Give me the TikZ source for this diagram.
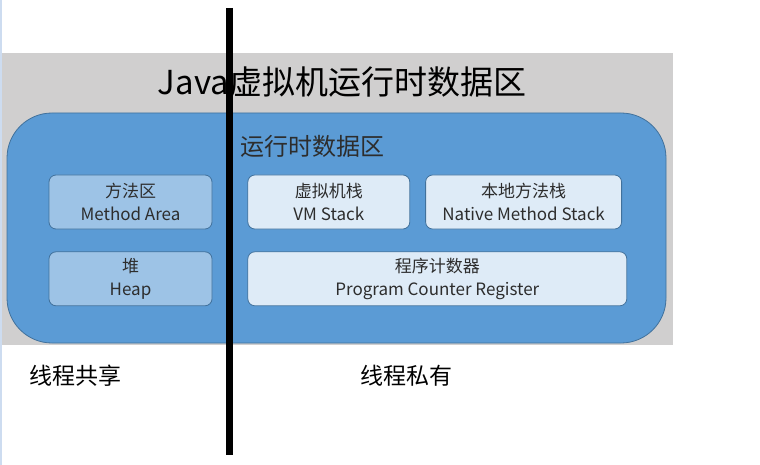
\documentclass[tikz,border=0pt]{standalone}
\usepackage{fontspec}
\setmainfont{Noto Sans CJK SC}
\usetikzlibrary{positioning}
\definecolor{bggray}{RGB}{208,207,207}
\definecolor{areablue}{RGB}{91,155,213}
\definecolor{edgeblue}{RGB}{65,113,156}
\definecolor{sharedblue}{RGB}{157,195,230}
\definecolor{privateblue}{RGB}{222,235,247}
\definecolor{textgray}{RGB}{45,45,45}
\definecolor{rimblue}{RGB}{205,220,240}

\begin{document}
\begin{tikzpicture}[x=1pt, y=-1pt,
    regionbox/.style={draw=edgeblue, line width=0.8pt, rounded corners=7pt,
        minimum height=54pt, inner sep=0pt, text=textgray, align=center,
        font=\fontsize{17}{23}\selectfont},
    sharedbox/.style={regionbox, fill=sharedblue, minimum width=163pt},
    privatebox/.style={regionbox, fill=privateblue},
    caption/.style={font=\fontsize{23}{27}\selectfont, text=black}]
    \useasboundingbox (0,0) rectangle (760,465);
    \fill[white] (0,0) rectangle (760,465);
    \draw[rimblue, line width=2pt] (1,0) -- (1,465);

    % background of the whole figure
    \fill[bggray] (2,53) rectangle (673,345);
    \node[font=\fontsize{33}{38}\selectfont, text=black] (title) at (342,82) {Java虚拟机运行时数据区};

    \node[draw=edgeblue, line width=0.8pt, fill=areablue, rounded corners=45pt,
        minimum width=659pt, minimum height=230pt] (runtime) at (336.5,228) {};
    \node[font=\fontsize{24}{28}\selectfont, text=textgray] (runtimetitle) at (312,146) {运行时数据区};

    % thread shared / thread private regions
    \node[sharedbox] (method) at (130.5,202) {方法区\\Method Area};
    \node[privatebox, minimum width=162pt, right=35pt of method] (vmstack) {虚拟机栈\\VM Stack};
    \node[privatebox, minimum width=196pt, right=15pt of vmstack] (native) {本地方法栈\\Native Method Stack};
    \node[sharedbox, below=22pt of method] (heap) {堆\\Heap};
    \node[privatebox, minimum width=379pt, below=22pt of vmstack.south west, anchor=north west] (pc) {程序计数器\\Program Counter Register};

    \coordinate (divtop) at (229,8);
    \coordinate (divbottom) at (229,455);
    \draw[line width=7pt] (divtop) -- (divbottom);

    \node[caption] (sharedlabel) at (75,376) {线程共享};
    \node[caption] (privatelabel) at (406,376) {线程私有};
\end{tikzpicture}
\end{document}
